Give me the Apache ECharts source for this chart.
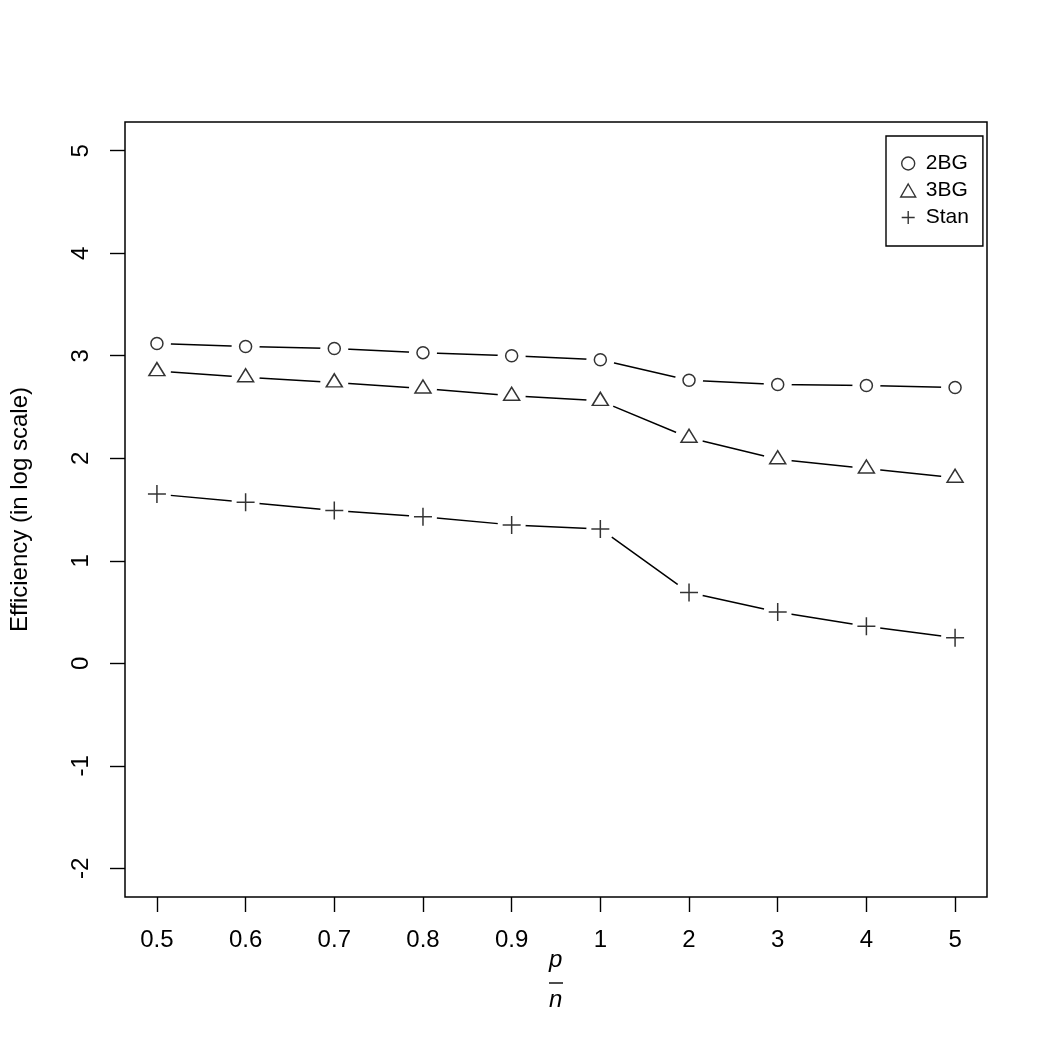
<!DOCTYPE html>
<html>
<head>
<meta charset="utf-8">
<script src="https://cdn.jsdelivr.net/npm/echarts@6/dist/echarts.min.js"></script>
<style>
  html, body { margin: 0; padding: 0; background: #fff; }
  #main { width: 1050px; height: 1050px; }
</style>
</head>
<body>
<div id="main"></div>
<script>
var categories = ['0.5', '0.6', '0.7', '0.8', '0.9', '1', '2', '3', '4', '5'];
var bg2 = [3.12, 3.09, 3.07, 3.03, 3.00, 2.96, 2.76, 2.72, 2.71, 2.69];
var bg3 = [2.85, 2.79, 2.74, 2.68, 2.61, 2.56, 2.20, 1.99, 1.90, 1.81];
var stan = [1.65, 1.57, 1.49, 1.43, 1.35, 1.31, 0.69, 0.50, 0.36, 0.25];
var yTicks = [-2, -1, 0, 1, 2, 3, 4, 5];
var xTicks = categories.map(function (c, i) { return i + 1; });

var font = 'Liberation Sans, Arial, Helvetica, sans-serif';
var plusPath = 'path://M0,8L16,8M8,0L8,16';

function pairs(vals) {
  return vals.map(function (v, i) { return [i + 1, v]; });
}

// markers on top, white discs under them to cut gaps in the lines (like R type="b")
function markers(name, vals, symbol, size, offset) {
  return {
    name: name,
    type: 'scatter',
    z: 3,
    symbol: symbol,
    symbolSize: size,
    symbolOffset: offset || [0, 0],
    itemStyle: { color: 'transparent', borderColor: '#000', borderWidth: 1.5 },
    emphasis: { disabled: true },
    data: pairs(vals)
  };
}
function joined(name, vals) {
  return {
    name: name,
    type: 'line',
    z: 2,
    symbol: 'circle',
    symbolSize: 28,
    itemStyle: { color: '#fff', borderWidth: 0 },
    lineStyle: { color: '#000', width: 1.5 },
    emphasis: { disabled: true },
    data: pairs(vals)
  };
}

var chart = echarts.init(document.getElementById('main'));
var option = {
  animation: false,
  backgroundColor: '#fff',
  textStyle: { fontFamily: font, color: '#000' },
  grid: {
    left: 123, right: 63, top: 122, bottom: 153,
    show: true, borderColor: '#000', borderWidth: 1.5, backgroundColor: 'transparent'
  },
  xAxis: {
    type: 'value',
    min: 0.64, max: 10.36,
    axisLine: { show: false, onZero: false },
    splitLine: { show: false },
    axisTick: { show: true, length: 15, lineStyle: { color: '#000', width: 1.4 }, customValues: xTicks },
    axisLabel: {
      customValues: xTicks,
      margin: 31,
      fontSize: 24, color: '#000', fontFamily: font,
      formatter: function (v) { return categories[Math.round(v) - 1]; }
    }
  },
  yAxis: {
    type: 'value',
    min: -2.28, max: 5.28,
    name: 'Efficiency (in log scale)',
    nameLocation: 'middle',
    nameRotate: 90,
    nameGap: 93,
    nameTextStyle: { fontSize: 24, color: '#000', fontFamily: font },
    axisLine: { show: false, onZero: false },
    splitLine: { show: false },
    axisTick: { show: true, length: 15, lineStyle: { color: '#000', width: 1.4 }, customValues: yTicks },
    axisLabel: {
      customValues: yTicks,
      rotate: 90,
      margin: 32,
      fontSize: 24, color: '#000', fontFamily: font
    }
  },
  legend: {
    orient: 'vertical',
    left: 886, top: 136,
    padding: [17, 14, 18, 14],
    borderColor: '#000', borderWidth: 1.4,
    itemWidth: 15, itemHeight: 13, itemGap: 6,
    selectedMode: false,
    textStyle: { fontSize: 21, color: '#000', fontFamily: font, padding: [0, 0, 0, 5], lineHeight: 21 },
    data: [
      { name: '2BG', icon: 'circle', itemStyle: { color: 'transparent', borderColor: '#000', borderWidth: 1.4 } },
      { name: '3BG', icon: 'triangle', itemStyle: { color: 'transparent', borderColor: '#000', borderWidth: 1.4 } },
      { name: 'Stan', icon: plusPath, itemStyle: { color: 'transparent', borderColor: '#000', borderWidth: 1.4 } }
    ]
  },
  graphic: [
    { type: 'text', left: 549, top: 948, style: { text: 'p', font: 'italic 24px ' + font, fill: '#000' } },
    { type: 'line', shape: { x1: 549, y1: 983, x2: 563, y2: 983 }, style: { stroke: '#000', lineWidth: 1.4 } },
    { type: 'text', left: 549, top: 988, style: { text: 'n', font: 'italic 24px ' + font, fill: '#000' } }
  ],
  series: [
    markers('2BG', bg2, 'circle', 12),
    markers('3BG', bg3, 'triangle', [16, 13], [0, -2]),
    markers('Stan', stan, plusPath, 18),
    joined('2BG', bg2),
    joined('3BG', bg3),
    joined('Stan', stan)
  ]
};
chart.setOption(option);
window.onresize = chart.resize;
</script>
</body>
</html>
